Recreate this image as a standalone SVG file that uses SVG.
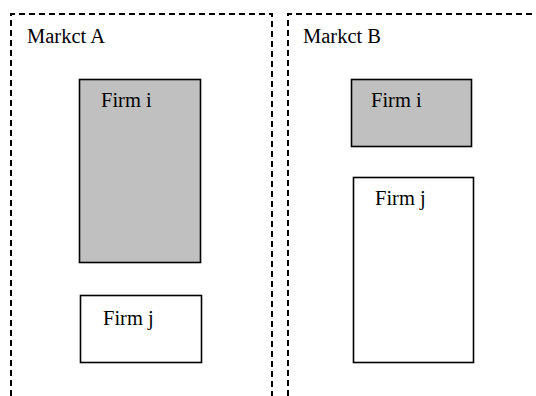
<svg xmlns="http://www.w3.org/2000/svg" width="536" height="396" viewBox="0 0 536 396">
<style>
.mk{fill:none;stroke:#000;stroke-width:2;stroke-dasharray:6 4}
.firm{stroke:#000;stroke-width:1.6}
.g{fill:#c0c0c0}
.w{fill:#fff}
text{font-family:"Liberation Serif","Times New Roman",serif;font-size:20.5px;fill:#000}
</style>
<rect width="536" height="396" fill="#fff"/>
<g id="marketA">
<path class="mk" d="M11,396 V14 H272 V396"/>
<text x="27" y="43">Markct A</text>
</g>
<g id="marketB">
<path class="mk" d="M288,396 V14 H536"/>
<text x="303" y="43">Markct B</text>
</g>
<g id="firmA_i">
<rect class="firm g" x="79.5" y="79.5" width="121" height="183"/>
<text x="101" y="107">Firm i</text>
</g>
<g id="firmA_j">
<rect class="firm w" x="80.5" y="295.5" width="121" height="67"/>
<text x="103" y="325">Firm j</text>
</g>
<g id="firmB_i">
<rect class="firm g" x="351.5" y="79.5" width="120" height="67"/>
<text x="371" y="107">Firm i</text>
</g>
<g id="firmB_j">
<rect class="firm w" x="353.5" y="177.5" width="120" height="185"/>
<text x="375" y="205">Firm j</text>
</g>
<g id="connectors"></g>
</svg>
